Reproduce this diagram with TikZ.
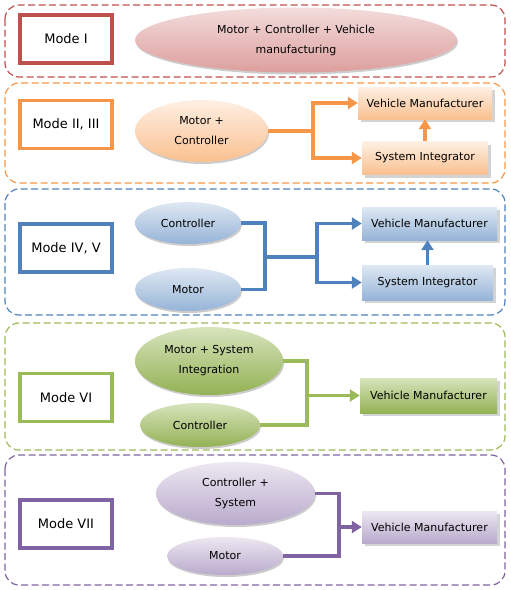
\documentclass[tikz,border=0pt]{standalone}
\usepackage{fontspec}
\setmainfont{DejaVu Sans}
\usetikzlibrary{arrows.meta,shadows,shapes.geometric}
\definecolor{cRed}{HTML}{C0504D}
\definecolor{cOrange}{HTML}{F79646}
\definecolor{cBlue}{HTML}{4F81BD}
\definecolor{cGreen}{HTML}{9BBB59}
\definecolor{cPurple}{HTML}{8064A2}
\tikzset{
  zone/.style={draw=#1, line width=1.2pt, dash pattern=on 7pt off 3.5pt, rounded corners=14pt},
  modebox/.style={draw=#1, line width=3.6pt, fill=white, minimum width=92pt, minimum height=48pt, inner sep=0pt, font=\fontsize{13}{15}\selectfont},
  oval/.style n args={4}{ellipse, top color=#1, bottom color=#2, minimum width=#3, minimum height=#4, inner sep=0pt, align=center, font=\fontsize{11}{20}\selectfont, drop shadow={shadow xshift=1pt, shadow yshift=-2pt, opacity=0.4}},
  actor/.style n args={4}{rectangle, top color=#1, bottom color=#2, minimum width=#3, minimum height=#4, inner sep=0pt, font=\fontsize{11}{13}\selectfont, drop shadow={shadow xshift=3pt, shadow yshift=-3pt, opacity=0.35}},
  link/.style={draw=#1, line width=3.6pt},
  flow/.style={draw=#1, line width=3.6pt, -{Triangle[length=10pt,width=12pt]}}
}
\begin{document}
\begin{tikzpicture}[x=1pt,y=-1pt]
    \useasboundingbox (0,0) rectangle (511,590);
    \foreach \c/\a/\b in {cRed/5/77, cOrange/83/183, cBlue/189/315, cGreen/323/450, cPurple/455/585}
        \draw[zone=\c] (5,\a) rectangle (505,\b);
    \foreach \n/\c/\y/\t in {m1/cRed/39/Mode I, m2/cOrange/124.5/{Mode II, III}, m4/cBlue/248/{Mode IV, V}, m6/cGreen/397.5/Mode VI, m7/cPurple/524/Mode VII}
        \node[modebox=\c] (\n) at (66,\y) {\t};

    \node[oval={cRed!20}{cRed!55}{322pt}{65pt}] (all1) at (296,40) {Motor + Controller + Vehicle\\manufacturing};

    \node[oval={cOrange!15}{cOrange!60}{133pt}{62pt}] (mc2) at (201.5,131) {Motor +\\Controller};
    \node[actor={cOrange!15}{cOrange!60}{134pt}{32pt}] (vm2) at (425,103) {Vehicle Manufacturer};
    \node[actor={cOrange!15}{cOrange!60}{126pt}{33pt}] (si2) at (425,158) {System Integrator};
    \coordinate (j2) at (313,131);
    \draw[link=cOrange] (mc2) -- (j2);
    \draw[flow=cOrange] (j2) |- (vm2);
    \draw[flow=cOrange] (j2) |- (si2);
    \draw[flow=cOrange] (si2) -- (vm2);

    \node[oval={cBlue!18}{cBlue!60}{106pt}{42pt}] (c4) at (188,223) {Controller};
    \node[oval={cBlue!18}{cBlue!60}{106pt}{43pt}] (mo4) at (188,289.5) {Motor};
    \node[actor={cBlue!18}{cBlue!60}{135pt}{33pt}] (vm4) at (429.5,223.5) {Vehicle Manufacturer};
    \node[actor={cBlue!18}{cBlue!60}{131pt}{35pt}] (si4) at (427.5,282.5) {System Integrator};
    \coordinate (j4) at (265,257);
    \coordinate (k4) at (317,257);
    \draw[link=cBlue] (c4) -| (j4) |- (mo4);
    \draw[link=cBlue] (j4) -- (k4);
    \draw[flow=cBlue] (k4) |- (vm4);
    \draw[flow=cBlue] (k4) |- (si4);
    \draw[flow=cBlue] (si4) -- (si4 |- vm4.south);

    \node[oval={cGreen!40}{cGreen!95!black}{148pt}{68pt}] (ms6) at (209,361) {Motor + System\\Integration};
    \node[oval={cGreen!40}{cGreen!95!black}{120pt}{44pt}] (c6) at (200,425) {Controller};
    \node[actor={cGreen!40}{cGreen!95!black}{137pt}{35pt}] (vm6) at (428.5,395.5) {Vehicle Manufacturer};
    \coordinate (j6) at (307,395.5);
    \draw[link=cGreen] (ms6) -| (j6) |- (c6);
    \draw[flow=cGreen] (j6) -- (vm6);

    \node[oval={cPurple!15}{cPurple!55}{159pt}{63pt}] (cs7) at (235.5,493.5) {Controller +\\System};
    \node[oval={cPurple!15}{cPurple!55}{116pt}{38pt}] (mo7) at (225,556) {Motor};
    \node[actor={cPurple!15}{cPurple!55}{135pt}{32pt}] (vm7) at (429.5,527) {Vehicle Manufacturer};
    \coordinate (j7) at (339,527);
    \draw[link=cPurple] (cs7) -| (j7) |- (mo7);
    \draw[flow=cPurple] (j7) -- (vm7);
\end{tikzpicture}
\end{document}
